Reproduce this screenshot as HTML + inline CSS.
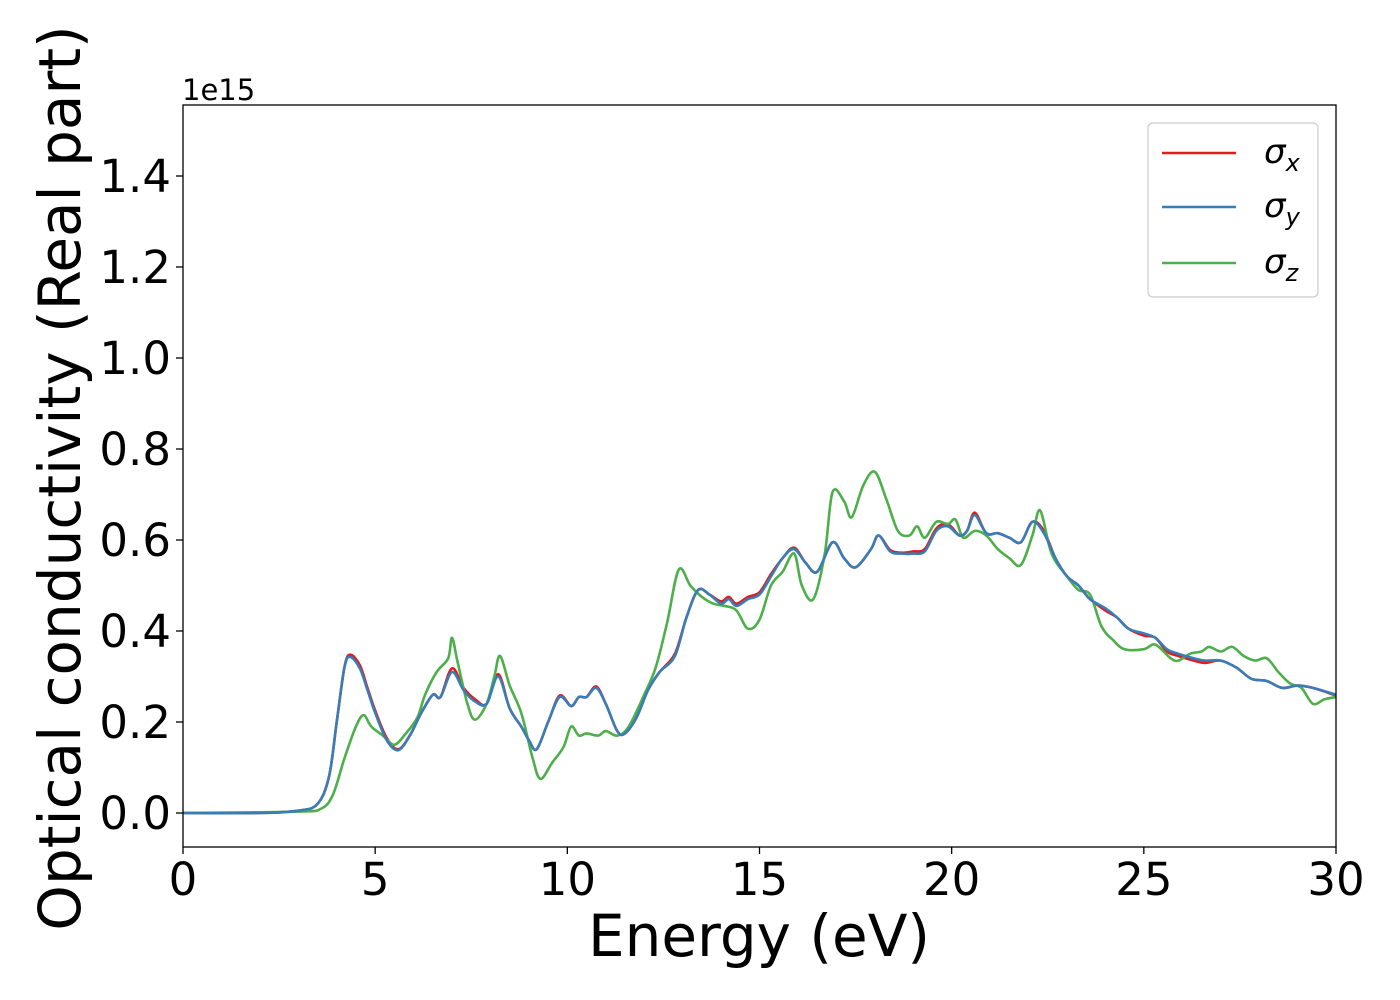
<!DOCTYPE html>
<html><head><meta charset="utf-8"><style>
body{margin:0;background:#fff}
svg{display:block;font-family:"DejaVu Sans","Liberation Sans",sans-serif}
</style></head><body>
<svg id="chart" width="1400" height="1000" viewBox="0 0 1400 1000" xmlns="http://www.w3.org/2000/svg">
<rect x="0" y="0" width="1400" height="1000" fill="#fff"/>
<g id="plot"></g>
<g id="axes"></g>
<text x="182" y="100" font-size="29">1e15</text>
<text x="759" y="956" font-size="58" text-anchor="middle">Energy (eV)</text>
<text transform="translate(80,478) rotate(-90)" font-size="58" text-anchor="middle">Optical conductivity (Real part)</text>
<g>
<rect x="1148" y="123" width="170" height="174" rx="5" fill="#fff" stroke="#ccc" stroke-width="1.2"/>
<g><line x1="1162" y1="153" x2="1236" y2="153" stroke="#e41a1c" stroke-width="2.5"/><text x="1264" y="163" font-size="34" font-style="italic">σ<tspan font-size="24" dy="8">x</tspan></text></g>
<g><line x1="1162" y1="207" x2="1236" y2="207" stroke="#377eb8" stroke-width="2.5"/><text x="1264" y="217" font-size="34" font-style="italic">σ<tspan font-size="24" dy="8">y</tspan></text></g>
<g><line x1="1162" y1="263" x2="1236" y2="263" stroke="#4daf4a" stroke-width="2.5"/><text x="1264" y="273" font-size="34" font-style="italic">σ<tspan font-size="24" dy="8">z</tspan></text></g>
</g>
</svg>
<script>
const xTicks=[0,5,10,15,20,25,30];
const yTicks=[0.0,0.2,0.4,0.6,0.8,1.0,1.2,1.4];
const energyXY=[0,2,3,3.5,3.8,4.0,4.2,4.35,4.6,4.8,5.0,5.3,5.6,5.9,6.2,6.5,6.7,7.0,7.3,7.6,7.9,8.2,8.5,8.8,9.0,9.2,9.5,9.8,10.1,10.3,10.5,10.75,11.0,11.3,11.5,11.8,12.1,12.4,12.8,13.1,13.4,13.7,14.0,14.2,14.4,14.7,15.0,15.3,15.6,15.9,16.2,16.5,16.9,17.2,17.5,17.9,18.1,18.4,18.7,19.0,19.3,19.6,19.9,20.2,20.4,20.6,20.9,21.2,21.5,21.8,22.1,22.4,22.7,23.0,23.3,23.6,24.0,24.3,24.6,25.0,25.3,25.6,25.9,26.3,26.6,27.0,27.4,27.8,28.2,28.6,29.0,29.4,30];
const sigmaX=[0,0,0.005,0.02,0.08,0.2,0.32,0.348,0.325,0.275,0.225,0.165,0.14,0.17,0.22,0.26,0.255,0.318,0.275,0.25,0.24,0.305,0.23,0.19,0.16,0.14,0.2,0.258,0.235,0.255,0.255,0.278,0.24,0.18,0.175,0.21,0.27,0.31,0.35,0.43,0.49,0.48,0.465,0.475,0.46,0.475,0.485,0.525,0.56,0.583,0.55,0.53,0.595,0.56,0.54,0.58,0.61,0.578,0.572,0.575,0.58,0.625,0.635,0.61,0.62,0.66,0.615,0.615,0.605,0.595,0.64,0.62,0.56,0.52,0.5,0.47,0.445,0.43,0.405,0.39,0.385,0.355,0.345,0.335,0.33,0.335,0.32,0.295,0.29,0.275,0.28,0.275,0.258];
const sigmaY=[0,0,0.005,0.02,0.08,0.2,0.32,0.343,0.318,0.27,0.22,0.16,0.138,0.17,0.22,0.26,0.255,0.31,0.27,0.245,0.24,0.3,0.23,0.19,0.16,0.14,0.2,0.255,0.235,0.255,0.255,0.275,0.24,0.18,0.175,0.21,0.27,0.31,0.345,0.43,0.49,0.48,0.46,0.47,0.455,0.47,0.48,0.52,0.56,0.58,0.55,0.53,0.595,0.56,0.54,0.58,0.61,0.575,0.57,0.57,0.575,0.62,0.63,0.61,0.62,0.655,0.615,0.615,0.605,0.595,0.64,0.615,0.56,0.52,0.5,0.47,0.45,0.43,0.405,0.395,0.385,0.36,0.35,0.34,0.335,0.335,0.32,0.295,0.29,0.275,0.28,0.275,0.26];
const energyZ=[0,3,3.6,3.9,4.2,4.5,4.7,4.9,5.2,5.5,5.8,6.1,6.3,6.6,6.9,7.0,7.15,7.4,7.6,7.9,8.1,8.25,8.5,8.8,9.1,9.3,9.6,9.9,10.1,10.3,10.5,10.8,11.0,11.3,11.6,12.0,12.3,12.6,12.9,13.2,13.5,13.8,14.1,14.4,14.7,15.0,15.3,15.6,15.9,16.1,16.4,16.7,16.9,17.2,17.4,17.7,18.0,18.3,18.6,18.9,19.1,19.3,19.6,19.9,20.1,20.3,20.6,20.9,21.2,21.5,21.8,22.1,22.3,22.6,23.0,23.3,23.6,23.9,24.2,24.5,25.0,25.3,25.7,25.9,26.2,26.5,26.7,27.0,27.3,27.6,27.9,28.2,28.5,28.8,29.1,29.4,29.7,30];
const sigmaZ=[0,0.003,0.01,0.04,0.12,0.19,0.215,0.19,0.17,0.15,0.175,0.21,0.26,0.31,0.34,0.385,0.33,0.24,0.205,0.24,0.3,0.345,0.28,0.22,0.12,0.075,0.11,0.145,0.19,0.17,0.175,0.17,0.18,0.17,0.19,0.26,0.32,0.42,0.535,0.5,0.475,0.46,0.455,0.445,0.405,0.425,0.5,0.53,0.57,0.5,0.47,0.57,0.705,0.685,0.65,0.72,0.75,0.69,0.62,0.61,0.63,0.605,0.64,0.635,0.645,0.605,0.62,0.61,0.58,0.56,0.545,0.61,0.665,0.57,0.52,0.49,0.48,0.41,0.38,0.36,0.36,0.37,0.34,0.335,0.35,0.355,0.365,0.355,0.365,0.345,0.335,0.34,0.31,0.285,0.275,0.24,0.25,0.255];

const L=183,R=1336,T=105,B=847;
const xS=e=>L+(e-0)/(30-0)*(R-L);
const yS=v=>813-v/1.4*(813-176);
const NS="http://www.w3.org/2000/svg";
function mk(tag,attrs,parent){const el=document.createElementNS(NS,tag);for(const k in attrs)el.setAttribute(k,attrs[k]);parent.appendChild(el);return el;}
function pathD(xs,ys){
  const p=xs.map((e,i)=>[xS(e),yS(ys[i])]);
  let d="M"+p[0][0].toFixed(1)+","+p[0][1].toFixed(1);
  for(let i=0;i<p.length-1;i++){
    const p0=p[Math.max(0,i-1)],p1=p[i],p2=p[i+1],p3=p[Math.min(p.length-1,i+2)];
    const c1=[p1[0]+(p2[0]-p0[0])/6,p1[1]+(p2[1]-p0[1])/6];
    const c2=[p2[0]-(p3[0]-p1[0])/6,p2[1]-(p3[1]-p1[1])/6];
    d+=" C"+c1[0].toFixed(1)+","+c1[1].toFixed(1)+" "+c2[0].toFixed(1)+","+c2[1].toFixed(1)+" "+p2[0].toFixed(1)+","+p2[1].toFixed(1);
  }
  return d;
}
const plot=document.getElementById('plot');
const cp=mk('clipPath',{id:'clip'},plot);mk('rect',{x:L,y:T,width:R-L,height:B-T},cp);
const series=[[energyXY,sigmaX,'#e41a1c','sigma-x-line'],[energyZ,sigmaZ,'#4daf4a','sigma-z-line'],[energyXY,sigmaY,'#377eb8','sigma-y-line']];
series.forEach(s=>{
  const el=mk('path',{d:pathD(s[0],s[1]),fill:'none',stroke:s[2],'stroke-width':2.6,'stroke-linejoin':'round','clip-path':'url(#clip)'},plot);
  
  
});
const axes=document.getElementById('axes');
const fr=mk('rect',{x:L,y:T,width:R-L,height:B-T,fill:'none',stroke:'#000','stroke-width':1.3},axes);


xTicks.forEach(t=>{
  const x=xS(t);
  const tk=mk('line',{x1:x,y1:B,x2:x,y2:B+7,stroke:'#000','stroke-width':1.3},axes);
  
  
  const tx=mk('text',{x:x,y:895,'font-size':45,'text-anchor':'middle'},axes);
  tx.textContent=t;
  
  
});
yTicks.forEach(t=>{
  const y=yS(t);
  const tk=mk('line',{x1:L-7,y1:y,x2:L,y2:y,stroke:'#000','stroke-width':1.3},axes);
  
  
  const tx=mk('text',{x:171,y:y+16,'font-size':45,'text-anchor':'end'},axes);
  tx.textContent=t.toFixed(1);
  
  
});
</script>
</body></html>
